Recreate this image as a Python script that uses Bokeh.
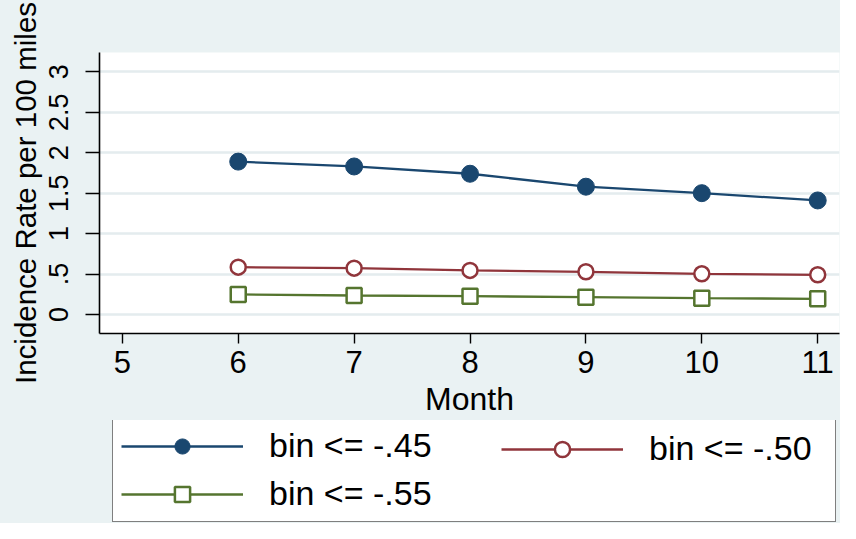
from bokeh.plotting import figure
from bokeh.models import Range1d, FixedTicker, Legend, LegendItem
from bokeh.layouts import column
from bokeh.embed import file_html
from bokeh.resources import INLINE

# ---- data ----
months = [6, 7, 8, 9, 10, 11]
bin_45 = [1.89, 1.83, 1.74, 1.58, 1.50, 1.41]
bin_50 = [0.585, 0.573, 0.545, 0.528, 0.503, 0.491]
bin_55 = [0.248, 0.235, 0.227, 0.214, 0.202, 0.194]
series_labels = ["bin <= -.45", "bin <= -.50", "bin <= -.55"]
x_ticks = [5, 6, 7, 8, 9, 10, 11]
y_ticks = [0, 0.5, 1, 1.5, 2, 2.5, 3]
y_tick_labels = ["0", ".5", "1", "1.5", "2", "2.5", "3"]

FONT = "Liberation Sans"
BG = "#EAF2F3"
NAVY = "#1A476F"
MAROON = "#90353B"
GREEN = "#55752F"

series = [
    dict(y=bin_45, color=NAVY, marker="circle", size=17, fill=NAVY, lw=1),
    dict(y=bin_50, color=MAROON, marker="circle", size=15, fill="white", lw=2.5),
    dict(y=bin_55, color=GREEN, marker="square", size=15, fill="white", lw=2.5),
]


def add_series(fig):
    out = []
    for s in series:
        ln = fig.line(months, s["y"], line_color=s["color"], line_width=2.3)
        sc = fig.scatter(months, s["y"], marker=s["marker"], size=s["size"],
                         fill_color=s["fill"], line_color=s["color"], line_width=s["lw"])
        out.append([ln, sc])
    return out


# ---------------- main plot ----------------
p = figure(width=840, height=420, output_backend="svg", toolbar_location=None,
           x_range=Range1d(4.803, 11.188), y_range=Range1d(-0.235, 3.239),
           min_border_left=99, min_border_right=1, min_border_top=52, min_border_bottom=87)
p.background_fill_color = "white"
p.border_fill_color = BG
p.outline_line_color = None

p.xgrid.visible = False
p.ygrid.grid_line_color = "#E4ECEE"
p.ygrid.grid_line_width = 2.5
p.ygrid.ticker = FixedTicker(ticks=y_ticks)

p.xaxis.ticker = FixedTicker(ticks=x_ticks)
p.yaxis.ticker = FixedTicker(ticks=y_ticks)
p.yaxis.major_label_overrides = {t: l for t, l in zip(y_ticks, y_tick_labels)}
p.yaxis.major_label_orientation = "vertical"
for ax in (p.xaxis[0], p.yaxis[0]):
    ax.axis_line_color = "black"
    ax.axis_line_width = 1.6
    ax.major_tick_line_color = "black"
    ax.major_tick_line_width = 1.4
    ax.minor_tick_line_color = None
    ax.major_tick_in = 0
    ax.major_label_text_color = "black"
    ax.major_label_text_font = FONT
    ax.axis_label_text_font = FONT
    ax.axis_label_text_font_style = "normal"
    ax.axis_label_text_color = "black"

p.xaxis.major_tick_out = 10
p.xaxis.major_label_text_font_size = "31px"
p.xaxis.major_label_standoff = 7
p.xaxis.axis_label = "Month"
p.xaxis.axis_label_text_font_size = "32px"
p.xaxis.axis_label_standoff = 5

p.yaxis.major_tick_out = 14
p.yaxis.major_label_text_font_size = "27px"
p.yaxis.major_label_standoff = 17
p.yaxis.axis_label = "Incidence Rate per 100 miles"
p.yaxis.axis_label_text_font_size = "29.5px"
p.yaxis.axis_label_standoff = 5

add_series(p)

# ---------------- legend strip ----------------
lg = figure(width=840, height=103, output_backend="svg", toolbar_location=None,
            x_range=Range1d(4.803, 11.188), y_range=Range1d(100, 101),
            x_axis_location=None, y_axis_location=None,
            min_border_left=0, min_border_right=0, min_border_top=0, min_border_bottom=0)
lg.background_fill_color = BG
lg.border_fill_color = BG
lg.outline_line_color = None
lg.grid.visible = False
rs = add_series(lg)   # same series; off-range, only used for the legend keys

common = dict(orientation="vertical", padding=8, spacing=9, glyph_width=122,
              glyph_height=38, label_height=38, label_standoff=26,
              label_text_font=FONT, label_text_font_size="34px", label_text_color="black",
              margin=0)
leg1 = Legend(items=[LegendItem(label=series_labels[0], renderers=rs[0]),
                     LegendItem(label=series_labels[2], renderers=rs[2])],
              location=(13, 1), label_width=558,
              border_line_color="black", border_line_width=1.5,
              background_fill_color="white", background_fill_alpha=1.0, **common)
leg2 = Legend(items=[LegendItem(label=series_labels[1], renderers=rs[1])],
              location=(394, 47), border_line_alpha=0.0,
              background_fill_alpha=0.0, **common)
lg.add_layout(leg1, "center")
lg.add_layout(leg2, "center")

page = column(p, lg, spacing=0, styles={"background-color": BG})
open("out.html", "w").write(file_html(page, INLINE))
